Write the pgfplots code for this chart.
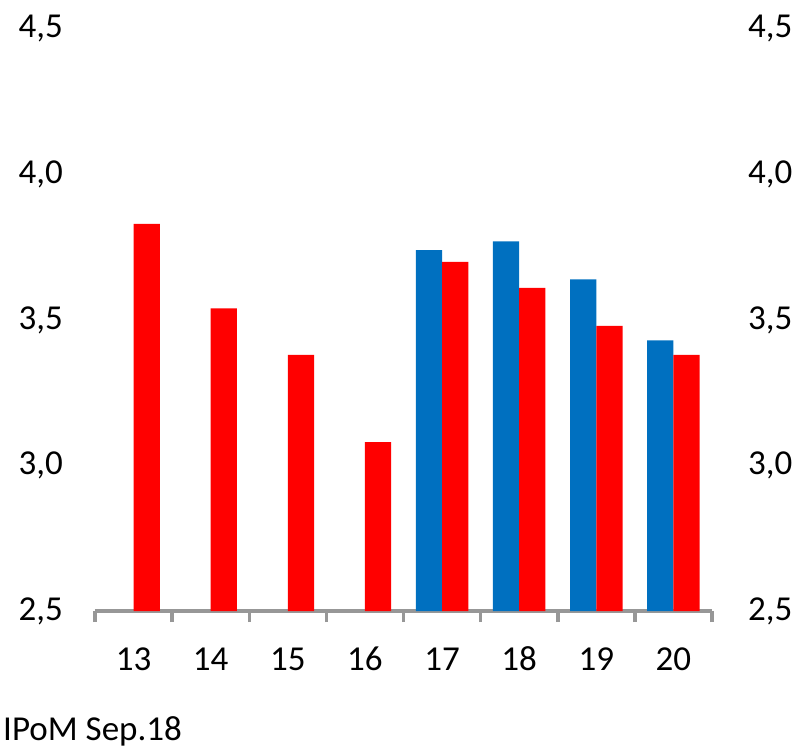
\documentclass[border=0pt]{standalone}
\usepackage{fontspec}
\setmainfont{Carlito}
\usepackage{pgfplots}
\pgfplotsset{compat=1.18}
\definecolor{cblue}{HTML}{0070C0}
\definecolor{cred}{HTML}{FF0000}
\definecolor{axgray}{HTML}{979797}
\newcommand{\bigfont}{\fontsize{35bp}{42bp}\selectfont}

\begin{document}
\begin{tikzpicture}
\pgfplotsset{
  common/.style={
    scale only axis, width=617bp, height=582bp,
    xmin=12.5, xmax=20.5, ymin=2.5, ymax=4.5,
    ytick={2.5,3.0,3.5,4.0,4.5},
    ytick style={draw=none},
    y axis line style={draw=none},
    tick label style={font=\bigfont},
    /pgf/number format/assume math mode=true,
    yticklabel style={
      /pgf/number format/fixed,
      /pgf/number format/fixed zerofill,
      /pgf/number format/precision=1,
      /pgf/number format/use comma},
  },
}
% bars + bottom axis + left labels
\begin{axis}[
  common,
  ybar=0pt, bar width=0.34,
  axis x line*=bottom, axis y line*=left,
  x axis line style={draw=axgray, line width=3.5bp},
  xtick={13,14,15,16,17,18,19,20},
  xticklabels={13,14,15,16,17,18,19,20},
  major tick length=0pt,
  minor xtick={12.5,13.5,...,20.5},
  minor tick length=11bp,
  tick align=outside,
  minor x tick style={draw=axgray, line width=3.5bp},
  xticklabel style={anchor=base, inner sep=0pt, yshift=-59bp},
  yticklabel style={anchor=east, inner sep=0pt, xshift=-32bp},
]
\addplot[fill=cblue, draw=none] coordinates {(17,3.74)(18,3.77)(19,3.64)(20,3.43)};
\addplot[fill=cred, draw=none] coordinates {(13,3.83)(14,3.54)(15,3.38)(16,3.08)(17,3.70)(18,3.61)(19,3.48)(20,3.38)};
\end{axis}
% right labels
\begin{axis}[
  common,
  hide x axis,
  axis y line*=right,
  major tick length=0pt,
  yticklabel style={anchor=west, inner sep=0pt, xshift=36bp},
]
\addplot[draw=none] coordinates {(13,2.5)};
\end{axis}
\node[anchor=base west, inner sep=0pt, font=\bigfont] at ([shift={(-92bp,-129bp)}]current axis.south west) {IPoM Sep.18};
\pgfresetboundingbox
\path[use as bounding box] ([shift={(-95bp,-139bp)}]current axis.south west) rectangle ++(798bp,750bp);
\end{tikzpicture}
\end{document}
